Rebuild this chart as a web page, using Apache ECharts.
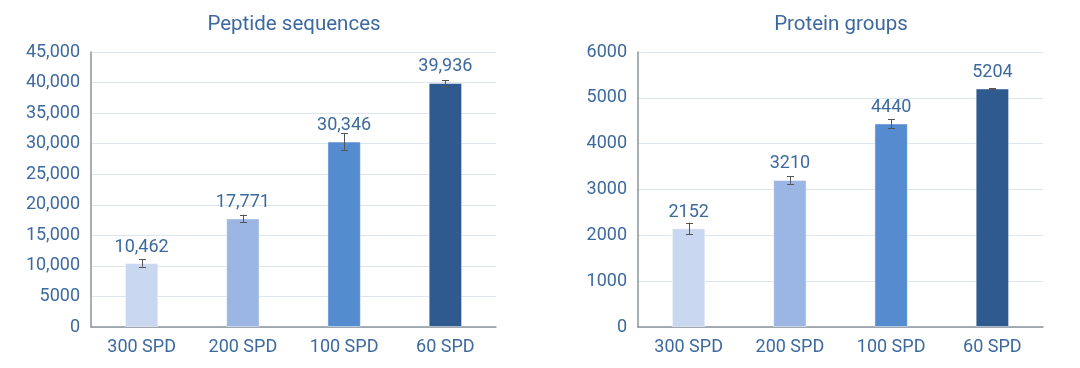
<!DOCTYPE html>
<html><head><meta charset="utf-8">
<script src="https://cdn.jsdelivr.net/npm/echarts@6/dist/echarts.min.js"></script>
<style>html,body{margin:0;padding:0;background:#fff}#c{width:1080px;height:368px}</style>
</head><body><div id="c"></div>
<script>
const categories = ['300 SPD', '200 SPD', '100 SPD', '60 SPD'];
const barColors = ['#cad7f0', '#9cb6e3', '#558cd0', '#2e5a8f'];
const peptideTitle = 'Peptide sequences';
const peptideValues = [10462, 17771, 30346, 39936];
const peptideErrors = [600, 600, 1400, 450];
const peptideTicks = ['0', '5000', '10,000', '15,000', '20,000', '25,000', '30,000', '35,000', '40,000', '45,000'];
const proteinTitle = 'Protein groups';
const proteinValues = [2152, 3210, 4440, 5204];
const proteinErrors = [125, 85, 95, 10];
const proteinTicks = ['0', '1000', '2000', '3000', '4000', '5000', '6000'];

const txt = '#3d6a9e';
const font = 'Roboto, "Liberation Sans", sans-serif';
const fmtComma = v => v.toLocaleString('en-US');

function barSeries(idx, values, labelFmt) {
  return {
    type: 'bar', xAxisIndex: idx, yAxisIndex: idx, barWidth: '33%',
    data: values.map((v, i) => ({value: v, itemStyle: {color: barColors[i], borderColor: 'rgba(255,255,255,0.45)', borderWidth: 1}})),
    label: {show: true, position: 'top', distance: 7, color: txt, fontSize: 18, fontFamily: font, formatter: p => labelFmt(p.value)},
    z: 2
  };
}
function errSeries(idx, values, errs) {
  return {
    type: 'custom', xAxisIndex: idx, yAxisIndex: idx, z: 3, silent: true,
    data: values.map((v, i) => [i, v - errs[i], v + errs[i]]),
    renderItem: (params, api) => {
      const lo = api.coord([api.value(0), api.value(1)]);
      const hi = api.coord([api.value(0), api.value(2)]);
      const x = Math.round(lo[0]) + 0.5, w = 3.5;
      const st = {stroke: '#555', lineWidth: 1};
      return {type: 'group', children: [
        {type: 'line', shape: {x1: x, y1: hi[1], x2: x, y2: lo[1]}, style: st},
        {type: 'line', shape: {x1: x - w, y1: Math.round(hi[1]) + 0.5, x2: x + w, y2: Math.round(hi[1]) + 0.5}, style: st},
        {type: 'line', shape: {x1: x - w, y1: Math.round(lo[1]) + 0.5, x2: x + w, y2: Math.round(lo[1]) + 0.5}, style: st}
      ]};
    }
  };
}
function xAx(idx) {
  return {type: 'category', gridIndex: idx, data: categories,
    axisLine: {show: true, lineStyle: {color: '#8a949c', width: 1.5}}, axisTick: {show: false},
    axisLabel: {color: txt, fontSize: 18, fontFamily: font, margin: 11}};
}
function yAx(idx, max, interval, ticks) {
  return {type: 'value', gridIndex: idx, min: 0, max: max, interval: interval,
    axisLine: {show: true, lineStyle: {color: '#8a949c', width: 1.5}}, axisTick: {show: false},
    splitLine: {lineStyle: {color: '#dde6ee', width: 1}},
    axisLabel: {color: txt, fontSize: 18, fontFamily: font, margin: 11, formatter: v => ticks[Math.round(v / interval)]}};
}

const chart = echarts.init(document.getElementById('c'));
chart.setOption({
  animation: false,
  title: [
    {text: peptideTitle, left: 289, top: 9, textAlign: 'center', textStyle: {color: txt, fontSize: 20.5, fontWeight: 'normal', fontFamily: font}},
    {text: proteinTitle, left: 836, top: 9, textAlign: 'center', textStyle: {color: txt, fontSize: 20.5, fontWeight: 'normal', fontFamily: font}}
  ],
  grid: [
    {left: 91, right: 584, top: 52, bottom: 41},
    {left: 638, right: 37, top: 52, bottom: 41}
  ],
  xAxis: [xAx(0), xAx(1)],
  yAxis: [yAx(0, 45000, 5000, peptideTicks), yAx(1, 6000, 1000, proteinTicks)],
  series: [
    barSeries(0, peptideValues, fmtComma), errSeries(0, peptideValues, peptideErrors),
    barSeries(1, proteinValues, v => String(v)), errSeries(1, proteinValues, proteinErrors)
  ]
});
</script></body></html>
